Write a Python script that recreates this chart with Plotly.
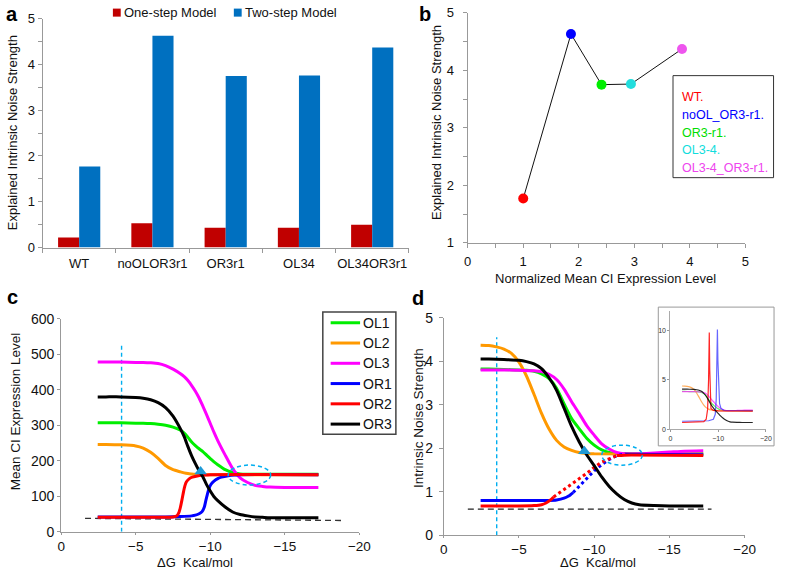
import plotly.graph_objects as go

W, H = 787, 577
FONT = "Liberation Sans, Arial, sans-serif"

# capture of the page shows a small vertical inset; map reference pixel rows to paper
V_OFF, V_SCALE = 8.6, 0.969


def px(x):
    return x / W


def py(y):
    return 1 - ((y - V_OFF) / V_SCALE) / H


# ---------------- Panel a ----------------
strains = ["WT", "noOLOR3r1", "OR3r1", "OL34", "OL34OR3r1"]
one_step = [0.22, 0.53, 0.43, 0.43, 0.50]
two_step = [1.77, 4.63, 3.75, 3.76, 4.37]

# ---------------- Panel b ----------------
b_labels = ["WT.", "noOL_OR3-r1.", "OR3-r1.", "OL3-4.", "OL3-4_OR3-r1."]
b_mean = [1.0, 1.86, 2.41, 2.94, 3.86]
b_noise = [1.77, 4.63, 3.75, 3.76, 4.37]
b_colors = ["#ff0000", "#0000ff", "#00ee00", "#22dddd", "#ee55ee"]
b_text_colors = ["#ff0000", "#0000ff", "#00dd00", "#11dddd", "#ee44ee"]

# ---------------- Panel c (mean CI expression) ----------------
c_names = ["OL1", "OL2", "OL3", "OR1", "OR2", "OR3"]
c_colors = ["#00ee00", "#ff9900", "#ff00ff", "#0000ff", "#ff0000", "#000000"]
c_grid = [-2.45, -3, -4, -5, -5.5, -6, -6.5, -7, -7.5, -8, -8.25, -8.5, -8.75, -9,
          -9.25, -9.5, -9.75, -10, -10.25, -10.5, -11, -11.5, -12, -12.5, -13,
          -13.5, -14, -15, -16, -17.25]
c_ol1 = [307, 307, 307, 306, 306, 305, 303, 300, 295, 286, 278, 266, 253, 243,
         234, 226, 216, 206, 197, 189, 175, 167, 163, 162, 162, 162, 162, 162, 162, 162]
c_ol2 = [246, 246, 245, 242, 236, 224, 207, 187, 175, 169, 166, 164, 163, 162,
         161, 161, 161, 161, 161, 161, 161, 161, 161, 161, 161, 161, 161, 161, 161, 161]
c_ol3 = [478, 478, 478, 477, 477, 476, 474, 468, 458, 445, 437, 426, 412, 396,
         377, 354, 330, 305, 280, 257, 216, 178, 152, 139, 131, 128, 126, 125, 125, 125]
c_or3 = [380, 380, 380, 378, 376, 372, 364, 350, 326, 290, 268, 240, 214, 192,
         172, 155, 133, 115, 99, 88, 70, 56, 49, 45, 42, 41, 40, 40, 40, 40]
c_or1_x = [-2.45, -5, -7, -8, -8.75, -9.0, -9.25, -9.45, -9.6, -9.7, -9.8, -9.9,
           -10.05, -10.25, -10.5, -10.75, -11.2, -11.6, -12, -17.25]
c_or1 = [42, 42, 42, 43, 45, 47, 51, 57, 70, 88, 105, 120, 134, 143, 150, 154,
         158, 160, 161, 161]
c_or2_x = [-2.45, -4, -6, -7, -7.5, -7.75, -7.9, -8.0, -8.1, -8.2, -8.3, -8.4,
           -8.6, -8.8, -9.2, -9.6, -10, -17.25]
c_or2 = [41, 41, 41, 41, 42, 45, 55, 70, 90, 112, 130, 141, 150, 154, 158, 160,
         161, 161]
c_vline_x = [-4.05, -4.05]
c_vline_y = [0, 530]
c_base_x = [-1.6, -18.9]
c_base_y = [38, 32]
c_marker_x = [-9.35]
c_marker_y = [170]
c_ellipse_x = [-11.2, -14.05]
c_ellipse_y = [132, 188]

# ---------------- Panel d (intrinsic noise strength) ----------------
d_ol2_x = [-2.45, -3, -3.5, -4, -4.5, -5, -5.5, -6, -6.5, -7, -7.5, -8, -8.5, -9,
           -9.5, -10, -17.25]
d_ol2 = [4.37, 4.36, 4.33, 4.28, 4.18, 3.98, 3.66, 3.24, 2.80, 2.44, 2.18, 2.03,
         1.95, 1.90, 1.88, 1.87, 1.86]
d_or3_x = [-2.45, -3, -4, -5, -5.5, -6, -6.5, -7, -7.5, -8, -8.5, -9, -9.5, -10,
           -10.5, -11, -11.5, -12, -12.5, -13, -14, -15, -17.25]
d_or3 = [4.05, 4.05, 4.04, 4.02, 3.99, 3.94, 3.83, 3.62, 3.33, 2.92, 2.50, 2.15,
         1.85, 1.60, 1.34, 1.12, 0.95, 0.82, 0.74, 0.70, 0.68, 0.67, 0.67]
d_ol1_x = [-2.45, -3, -4, -5, -5.5, -6, -6.5, -7, -7.5, -8, -8.5, -9, -9.5, -10,
           -10.5, -11, -11.5, -12, -17.25]
d_ol1 = [3.82, 3.82, 3.81, 3.80, 3.79, 3.77, 3.71, 3.60, 3.38, 3.02, 2.68, 2.45,
         2.23, 2.07, 1.96, 1.90, 1.88, 1.87, 1.87]
d_ol3_x = [-2.45, -3, -4, -5, -6, -6.5, -7, -7.5, -8, -8.5, -9, -9.5, -10, -10.5,
           -11, -11.5, -12, -13, -14, -15, -16, -17.25]
d_ol3 = [3.80, 3.80, 3.80, 3.79, 3.78, 3.76, 3.70, 3.58, 3.36, 3.07, 2.80, 2.52,
         2.30, 2.10, 1.98, 1.90, 1.87, 1.87, 1.89, 1.91, 1.93, 1.94]
d_or1_x = [-2.45, -5, -7, -7.5, -8, -8.3, -8.6]
d_or1 = [0.80, 0.80, 0.80, 0.81, 0.85, 0.90, 0.98]
d_or1_dot_x = [-8.6, -9.0, -9.5, -10, -10.5, -11, -11.5, -12.1]
d_or1_dot = [0.98, 1.12, 1.30, 1.48, 1.62, 1.74, 1.83, 1.87]
d_or1_tail_x = [-12.1, -17.25]
d_or1_tail = [1.86, 1.85]
d_or2_x = [-2.45, -5, -6, -6.5, -6.8, -7.1, -7.3]
d_or2 = [0.67, 0.67, 0.68, 0.70, 0.74, 0.81, 0.88]
d_or2_dot_x = [-7.3, -8, -8.5, -9, -9.5, -10, -10.5, -11.5]
d_or2_dot = [0.88, 1.05, 1.18, 1.30, 1.42, 1.56, 1.68, 1.83]
d_or2_tail_x = [-11.5, -12, -17.25]
d_or2_tail = [1.83, 1.84, 1.83]
d_vline_x = [-3.52, -3.52]
d_vline_y = [0, 4.55]
d_base_x = [-1.6, -17.8]
d_base_y = [0.6, 0.6]
d_marker_x = [-9.35]
d_marker_y = [1.93]
d_ellipse_x = [-10.5, -13.2]
d_ellipse_y = [1.61, 2.07]

# ---------------- Inset (full noise curves with spikes) ----------------
in_or2_x = [-2.45, -6, -7.0, -7.5, -7.8, -8.0, -8.15, -8.25, -8.35, -8.5, -9,
            -10, -17.25]
in_or2 = [0.67, 0.68, 0.75, 1.0, 2.0, 5.0, 9.8, 6.0, 3.0, 2.1, 1.9, 1.85, 1.83]
in_or1_x = [-2.45, -8, -9.0, -9.4, -9.6, -9.75, -9.85, -9.95, -10.1, -10.3,
            -10.6, -11.2, -17.25]
in_or1 = [0.80, 0.85, 1.0, 1.5, 3.0, 6.0, 10.1, 7.0, 4.0, 2.6, 2.1, 1.9, 1.87]

CYAN = "#00aeef"

fig = go.Figure()

# Panel a bars
fig.add_trace(go.Bar(x=strains, y=one_step, name="One-step Model",
                     marker=dict(color="#c00000", line=dict(width=0)),
                     xaxis="x", yaxis="y", showlegend=False))
fig.add_trace(go.Bar(x=strains, y=two_step, name="Two-step Model",
                     marker=dict(color="#0070c0", line=dict(width=0)),
                     xaxis="x", yaxis="y", showlegend=False))

# Panel b
fig.add_trace(go.Scatter(x=b_mean, y=b_noise, mode="lines+markers",
                         line=dict(color="#111", width=1),
                         marker=dict(color=b_colors, size=10, line=dict(width=0)),
                         xaxis="x2", yaxis="y2", showlegend=False))


def curve(x, y, color, xa, ya, width=3, dash=None, shape="spline", opacity=1.0):
    return go.Scatter(x=x, y=y, mode="lines", opacity=opacity,
                      line=dict(color=color, width=width, dash=dash, shape=shape,
                                smoothing=0.6 if shape == "spline" else None),
                      xaxis=xa, yaxis=ya, showlegend=False, hoverinfo="skip")


# Panel c
fig.add_trace(curve(c_vline_x, c_vline_y, CYAN, "x3", "y3", width=1.4,
                    dash="4px,3px", shape="linear"))
fig.add_trace(curve(c_base_x, c_base_y, "#333333", "x3", "y3", width=1.3,
                    dash="6px,4px", shape="linear"))
c_series = [(c_grid, c_ol1), (c_grid, c_ol2), (c_grid, c_ol3),
            (c_or1_x, c_or1), (c_or2_x, c_or2), (c_grid, c_or3)]
for (xs, ys), col in zip(c_series, c_colors):
    fig.add_trace(curve(xs, ys, col, "x3", "y3"))
fig.add_trace(go.Scatter(x=c_marker_x, y=c_marker_y, mode="markers",
                         marker=dict(symbol="triangle-up", size=11, color="#1e9ad6"),
                         xaxis="x3", yaxis="y3", showlegend=False))

# Panel d
fig.add_trace(curve(d_vline_x, d_vline_y, CYAN, "x4", "y4", width=1.4,
                    dash="4px,3px", shape="linear"))
fig.add_trace(curve(d_base_x, d_base_y, "#222222", "x4", "y4", width=1.3,
                    dash="6px,4px", shape="linear"))
fig.add_trace(curve(d_ol1_x, d_ol1, c_colors[0], "x4", "y4"))
fig.add_trace(curve(d_ol2_x, d_ol2, c_colors[1], "x4", "y4"))
fig.add_trace(curve(d_ol3_x, d_ol3, c_colors[2], "x4", "y4"))
fig.add_trace(curve(d_or1_tail_x, d_or1_tail, c_colors[3], "x4", "y4"))
fig.add_trace(curve(d_or1_x, d_or1, c_colors[3], "x4", "y4"))
fig.add_trace(curve(d_or1_dot_x, d_or1_dot, c_colors[3], "x4", "y4",
                    dash="3px,3px", shape="linear"))
fig.add_trace(curve(d_or2_x, d_or2, c_colors[4], "x4", "y4"))
fig.add_trace(curve(d_or2_dot_x, d_or2_dot, c_colors[4], "x4", "y4",
                    dash="3px,3px", shape="linear"))
fig.add_trace(curve(d_or2_tail_x, d_or2_tail, c_colors[4], "x4", "y4"))
fig.add_trace(curve(d_or3_x, d_or3, c_colors[5], "x4", "y4"))
fig.add_trace(go.Scatter(x=d_marker_x, y=d_marker_y, mode="markers",
                         marker=dict(symbol="triangle-up", size=11, color="#1e9ad6"),
                         xaxis="x4", yaxis="y4", showlegend=False))

# Inset
fig.add_trace(curve(d_ol1_x, d_ol1, "#33ee33", "x5", "y5", width=1.2, opacity=0.8))
fig.add_trace(curve(d_ol2_x, d_ol2, "#ff9933", "x5", "y5", width=1.2, opacity=0.8))
fig.add_trace(curve(d_ol3_x, d_ol3, "#ff33ff", "x5", "y5", width=1.2, opacity=0.8))
fig.add_trace(curve(in_or1_x, in_or1, "#3333ff", "x5", "y5", width=1.2,
                    shape="linear", opacity=0.75))
fig.add_trace(curve(in_or2_x, in_or2, "#ff0000", "x5", "y5", width=1.2,
                    shape="linear", opacity=0.85))
fig.add_trace(curve(d_or3_x, d_or3, "#000000", "x5", "y5", width=1.2, opacity=0.85))

tickfont13 = dict(family=FONT, size=13, color="#111")
tickfont14 = dict(family=FONT, size=14, color="#111")
tickfont135 = dict(family=FONT, size=13.5, color="#111")
base = dict(showline=True, linecolor="#999", linewidth=1, ticks="outside",
            tickcolor="#999", ticklen=4, showgrid=False, zeroline=False, fixedrange=True)

fig.update_layout(
    width=W, height=H, margin=dict(l=0, r=0, t=0, b=0),
    paper_bgcolor="white", plot_bgcolor="white",
    font=dict(family=FONT, color="#111"),
    barmode="group", bargap=0.424, bargroupgap=0,
    xaxis=dict(base, domain=[px(39.3), px(412.7)], anchor="y", type="category",
               tickson="boundaries", tickangle=0, tickfont=tickfont13,
               ticklabelstandoff=4),
    yaxis=dict(base, domain=[py(247.3), py(19.3)], anchor="x", range=[0, 5],
               dtick=1, tickfont=tickfont13, ticklabelstandoff=0,
               minor=dict(ticks="outside", ticklen=4, dtick=0.5, tickcolor="#999")),
    xaxis2=dict(base, domain=[px(472.7), px(755.7)], anchor="y2", range=[0, 5],
                dtick=1, tickfont=tickfont13, ticklabelstandoff=3,
                minor=dict(ticks="outside", ticklen=4, dtick=0.5, tickcolor="#999")),
    yaxis2=dict(base, domain=[py(242.7), py(13.3)], anchor="x2", range=[1, 5],
                dtick=1, tickfont=tickfont13, ticklabelstandoff=6,
                minor=dict(ticks="outside", ticklen=4, dtick=0.5, tickcolor="#999")),
    xaxis3=dict(base, domain=[px(58.3), px(362.3)], anchor="y3", range=[0, -20],
                tickvals=[0, -5, -10, -15, -20], tickfont=tickfont135,
                ticklen=2, ticklabelstandoff=0),
    yaxis3=dict(base, domain=[py(530.7), py(318.3)], anchor="x3", range=[0, 600],
                dtick=100, tickfont=tickfont14, ticklen=3, ticklabelstandoff=0),
    xaxis4=dict(base, domain=[px(448.3), px(755)], anchor="y4", range=[0, -20],
                tickvals=[0, -5, -10, -15, -20], tickfont=tickfont135,
                ticklen=2, ticklabelstandoff=0),
    yaxis4=dict(base, domain=[py(534), py(317.3)], anchor="x4", range=[0, 5],
                dtick=1, tickfont=tickfont14, ticklabelstandoff=3),
    xaxis5=dict(base, domain=[px(679.3), px(776.7)], anchor="y5", range=[0, -20],
                tickvals=[0, -10, -20], ticklen=2, linecolor="#aaa",
                tickfont=dict(family=FONT, size=7, color="#333"), ticklabelstandoff=0),
    yaxis5=dict(base, domain=[py(428.3), py(310.3)], anchor="x5", range=[0, 12],
                tickvals=[0, 5, 10], ticklen=2, linecolor="#aaa",
                tickfont=dict(family=FONT, size=7, color="#333"), ticklabelstandoff=0),
)

shapes = []
annotations = []

# ellipses (data coordinates)
shapes.append(dict(type="circle", xref="x3", yref="y3", x0=c_ellipse_x[0],
                   x1=c_ellipse_x[1], y0=c_ellipse_y[0], y1=c_ellipse_y[1],
                   line=dict(color=CYAN, width=1.5, dash="4px,3px")))
shapes.append(dict(type="circle", xref="x4", yref="y4", x0=d_ellipse_x[0],
                   x1=d_ellipse_x[1], y0=d_ellipse_y[0], y1=d_ellipse_y[1],
                   line=dict(color=CYAN, width=1.5, dash="4px,3px")))

# inset frame
shapes.append(dict(type="rect", xref="paper", yref="paper", x0=px(667), x1=px(785),
                   y0=py(445), y1=py(306.7), line=dict(color="#999", width=1),
                   layer="below"))

# panel a legend
for (x0, col, label) in [(111, "#c00000", "One-step Model"),
                         (234.3, "#0070c0", "Two-step Model")]:
    shapes.append(dict(type="rect", xref="paper", yref="paper", x0=px(x0),
                       x1=px(x0 + 8), y0=py(17.2), y1=py(9.2),
                       fillcolor=col, line=dict(width=0)))
    annotations.append(dict(xref="paper", yref="paper", x=px(x0 + 9.5), y=py(13.2),
                            text=label, showarrow=False, xanchor="left",
                            yanchor="middle", font=dict(family=FONT, size=13, color="#111")))

# panel b legend
shapes.append(dict(type="rect", xref="paper", yref="paper", x0=px(682), x1=px(784.5),
                   y0=py(177.7), y1=py(76), line=dict(color="#333", width=1)))
for i, (lab, col) in enumerate(zip(b_labels, b_text_colors)):
    annotations.append(dict(xref="paper", yref="paper", x=px(689.3),
                            y=py(97.7 + 17.6 * i), text=lab, showarrow=False,
                            xanchor="left", yanchor="middle",
                            font=dict(family=FONT, size=12.5, color=col)))

# panel c legend
shapes.append(dict(type="rect", xref="paper", yref="paper", x0=px(325), x1=px(399.5),
                   y0=py(433.3), y1=py(311.7), line=dict(color="#444", width=1.5)))
for i, (nm, col) in enumerate(zip(c_names, c_colors)):
    yy = 322.3 + 20.2 * i
    shapes.append(dict(type="line", xref="paper", yref="paper", x0=px(333), x1=px(363),
                       y0=py(yy), y1=py(yy), line=dict(color=col, width=3)))
    annotations.append(dict(xref="paper", yref="paper", x=px(364), y=py(yy), text=nm,
                            showarrow=False, xanchor="left", yanchor="middle",
                            font=dict(family=FONT, size=14, color="#111")))

# axis titles
titles = [
    ("Explained Intrinsic Noise Strength", 8.5, 133, -90, 13),
    ("Explained Intrinsic Noise Strength", 441.7, 123, -90, 13),
    ("Normalized Mean CI Expression Level", 613.5, 277.7, 0, 13),
    ("Mean CI Expression Level", 11.7, 410, -90, 13.5),
    ("\u0394G  Kcal/mol", 194.5, 561.0, 0, 13),
    ("Intrinsic Noise Strength", 422.5, 416.7, -90, 13.5),
    ("\u0394G  Kcal/mol", 605.8, 561.0, 0, 13),
]
for txt, x, y, ang, sz in titles:
    annotations.append(dict(xref="paper", yref="paper", x=px(x), y=py(y), text=txt,
                            textangle=ang, showarrow=False, xanchor="center",
                            yanchor="middle", font=dict(family=FONT, size=sz, color="#111")))

# panel letters
for lab, x, y in [("a", 8.5, 15), ("b", 429, 15), ("c", 8.5, 297), ("d", 422, 298)]:
    annotations.append(dict(xref="paper", yref="paper", x=px(x), y=py(y),
                            text="<b>%s</b>" % lab, showarrow=False, xanchor="center",
                            yanchor="middle", font=dict(family=FONT, size=20, color="#000")))

fig.update_layout(shapes=shapes, annotations=annotations)
fig.write_html("out.html",
               config={"displayModeBar": False, "staticPlot": True},
               post_script="document.body.style.margin='0px';"
                           "document.body.style.padding='0px';"
                           "document.body.style.overflow='hidden';")
